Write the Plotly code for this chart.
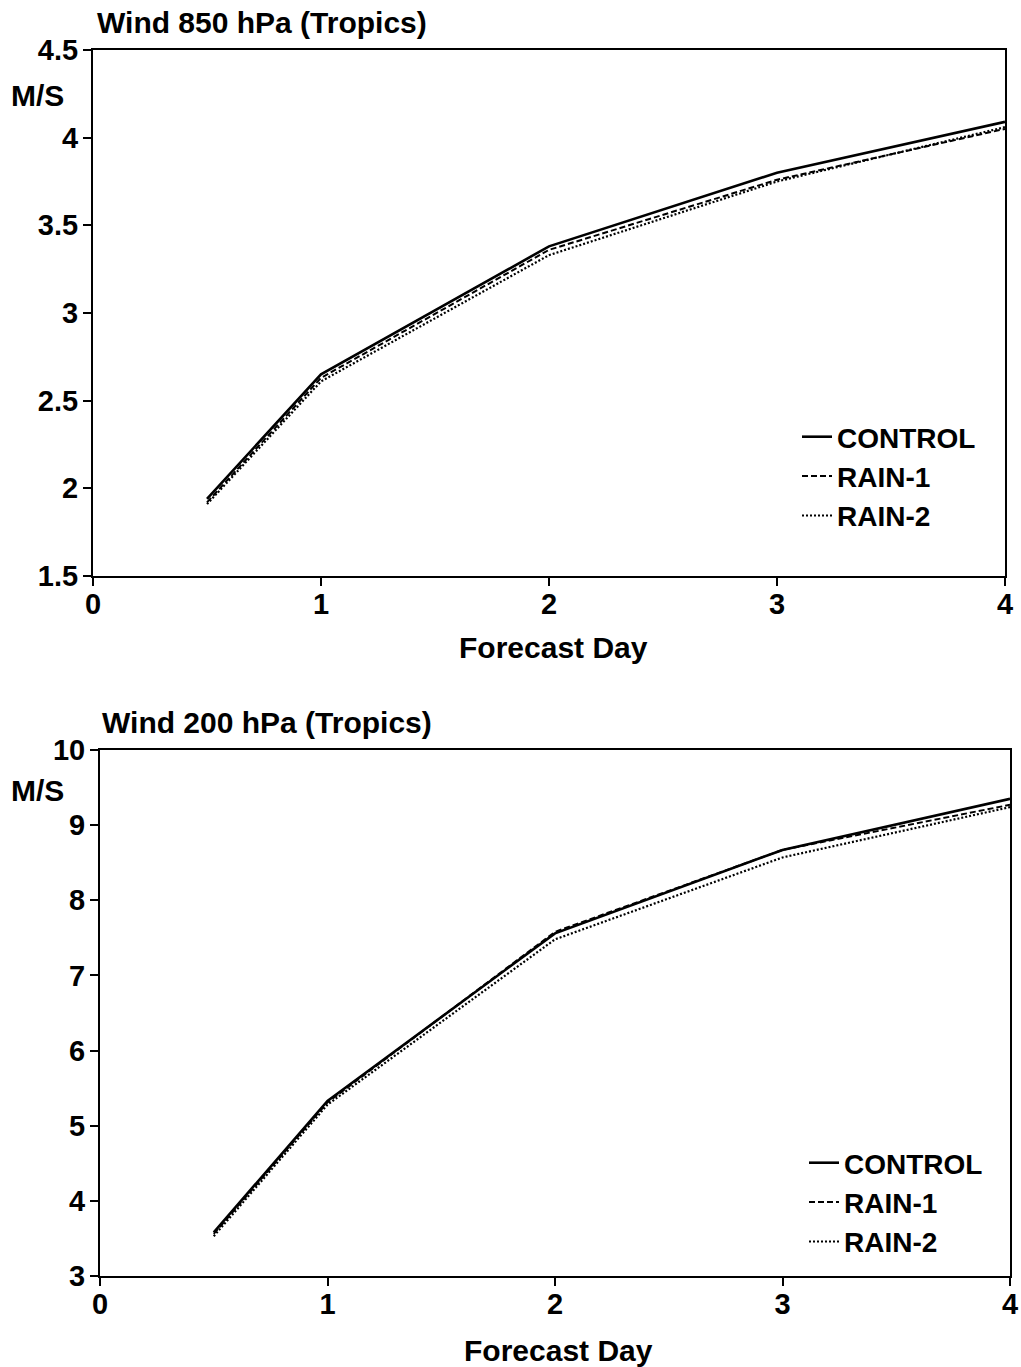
import plotly.graph_objects as go

W, H = 1021, 1367

days = [0.5, 1, 2, 3, 4]

# Wind 850 hPa (Tropics)
w850_control = [1.94, 2.65, 3.38, 3.80, 4.09]
w850_rain1 = [1.92, 2.63, 3.36, 3.76, 4.05]
w850_rain2 = [1.91, 2.61, 3.33, 3.75, 4.06]

# Wind 200 hPa (Tropics)
w200_control = [3.58, 5.33, 7.56, 8.67, 9.35]
w200_rain1 = [3.56, 5.31, 7.58, 8.67, 9.27]
w200_rain2 = [3.53, 5.28, 7.48, 8.57, 9.24]

series_names = ["CONTROL", "RAIN-1", "RAIN-2"]
series_dash = ["solid", "6px,3px", "2px,2px"]
series_width = [2.6, 2.0, 2.2]

x_ticks = [0, 1, 2, 3, 4]
y850_ticks = [1.5, 2, 2.5, 3, 3.5, 4, 4.5]
y850_labels = ["1.5", "2", "2.5", "3", "3.5", "4", "4.5"]
y200_ticks = [3, 4, 5, 6, 7, 8, 9, 10]

FONT = "Liberation Sans, Arial, sans-serif"

fig = go.Figure()

top_data = [w850_control, w850_rain1, w850_rain2]
bot_data = [w200_control, w200_rain1, w200_rain2]

for i, (name, ys) in enumerate(zip(series_names, top_data)):
    fig.add_trace(go.Scatter(
        x=days, y=ys, mode="lines", name=name,
        line=dict(color="black", width=series_width[i], dash=series_dash[i]),
        xaxis="x", yaxis="y", legend="legend", legendgroup="a%d" % i,
    ))
for i, (name, ys) in enumerate(zip(series_names, bot_data)):
    fig.add_trace(go.Scatter(
        x=days, y=ys, mode="lines", name=name,
        line=dict(color="black", width=series_width[i], dash=series_dash[i]),
        xaxis="x2", yaxis="y2", legend="legend2", legendgroup="b%d" % i,
    ))

def px_x(p):
    return p / W

def px_y(p):
    return 1 - p / H

axis_common = dict(
    showline=True, linecolor="black", linewidth=2, mirror=True,
    ticks="outside", ticklen=8, tickwidth=1.5, tickcolor="black",
    showgrid=False, zeroline=False, automargin=False,
    tickfont=dict(family=FONT, size=29, color="black", weight="bold"),
)
x_common = dict(ticklabelstandoff=-7, **axis_common)
y_common = dict(ticklabelstandoff=-1, **axis_common)

leg_font = dict(family=FONT, size=28, color="black", weight="bold")

fig.update_layout(
    width=W, height=H,
    margin=dict(l=0, r=0, t=0, b=0),
    paper_bgcolor="white", plot_bgcolor="white",
    xaxis=dict(domain=[px_x(93), px_x(1005)], range=[0, 4], tickvals=x_ticks,
               anchor="y", **x_common),
    yaxis=dict(domain=[px_y(576), px_y(50)], range=[1.5, 4.5], tickvals=y850_ticks,
               ticktext=y850_labels, anchor="x", **y_common),
    xaxis2=dict(domain=[px_x(100), px_x(1010)], range=[0, 4], tickvals=x_ticks,
                anchor="y2", **x_common),
    yaxis2=dict(domain=[px_y(1276), px_y(750)], range=[3, 10], tickvals=y200_ticks,
                anchor="x2", **y_common),
    legend=dict(x=px_x(797), y=px_y(412), xanchor="left", yanchor="top",
                bgcolor="rgba(0,0,0,0)", traceorder="grouped", tracegroupgap=0,
                font=leg_font),
    legend2=dict(x=px_x(804), y=px_y(1138), xanchor="left", yanchor="top",
                 bgcolor="rgba(0,0,0,0)", traceorder="grouped", tracegroupgap=0,
                 font=leg_font),
    showlegend=True,
)

ann_font = dict(family=FONT, size=30, color="black", weight="bold")
annotations = [
    dict(text="Wind 850 hPa (Tropics)", x=px_x(95), y=px_y(22), xanchor="left", yanchor="middle"),
    dict(text="Wind 200 hPa (Tropics)", x=px_x(100), y=px_y(722), xanchor="left", yanchor="middle"),
    dict(text="M/S", x=px_x(37), y=px_y(95), xanchor="center", yanchor="middle"),
    dict(text="M/S", x=px_x(37), y=px_y(790), xanchor="center", yanchor="middle"),
    dict(text="Forecast Day", x=px_x(553), y=px_y(647), xanchor="center", yanchor="middle"),
    dict(text="Forecast Day", x=px_x(558), y=px_y(1350), xanchor="center", yanchor="middle"),
]
for a in annotations:
    fig.add_annotation(xref="paper", yref="paper", showarrow=False, font=ann_font, **a)

fig.write_html("out.html")
